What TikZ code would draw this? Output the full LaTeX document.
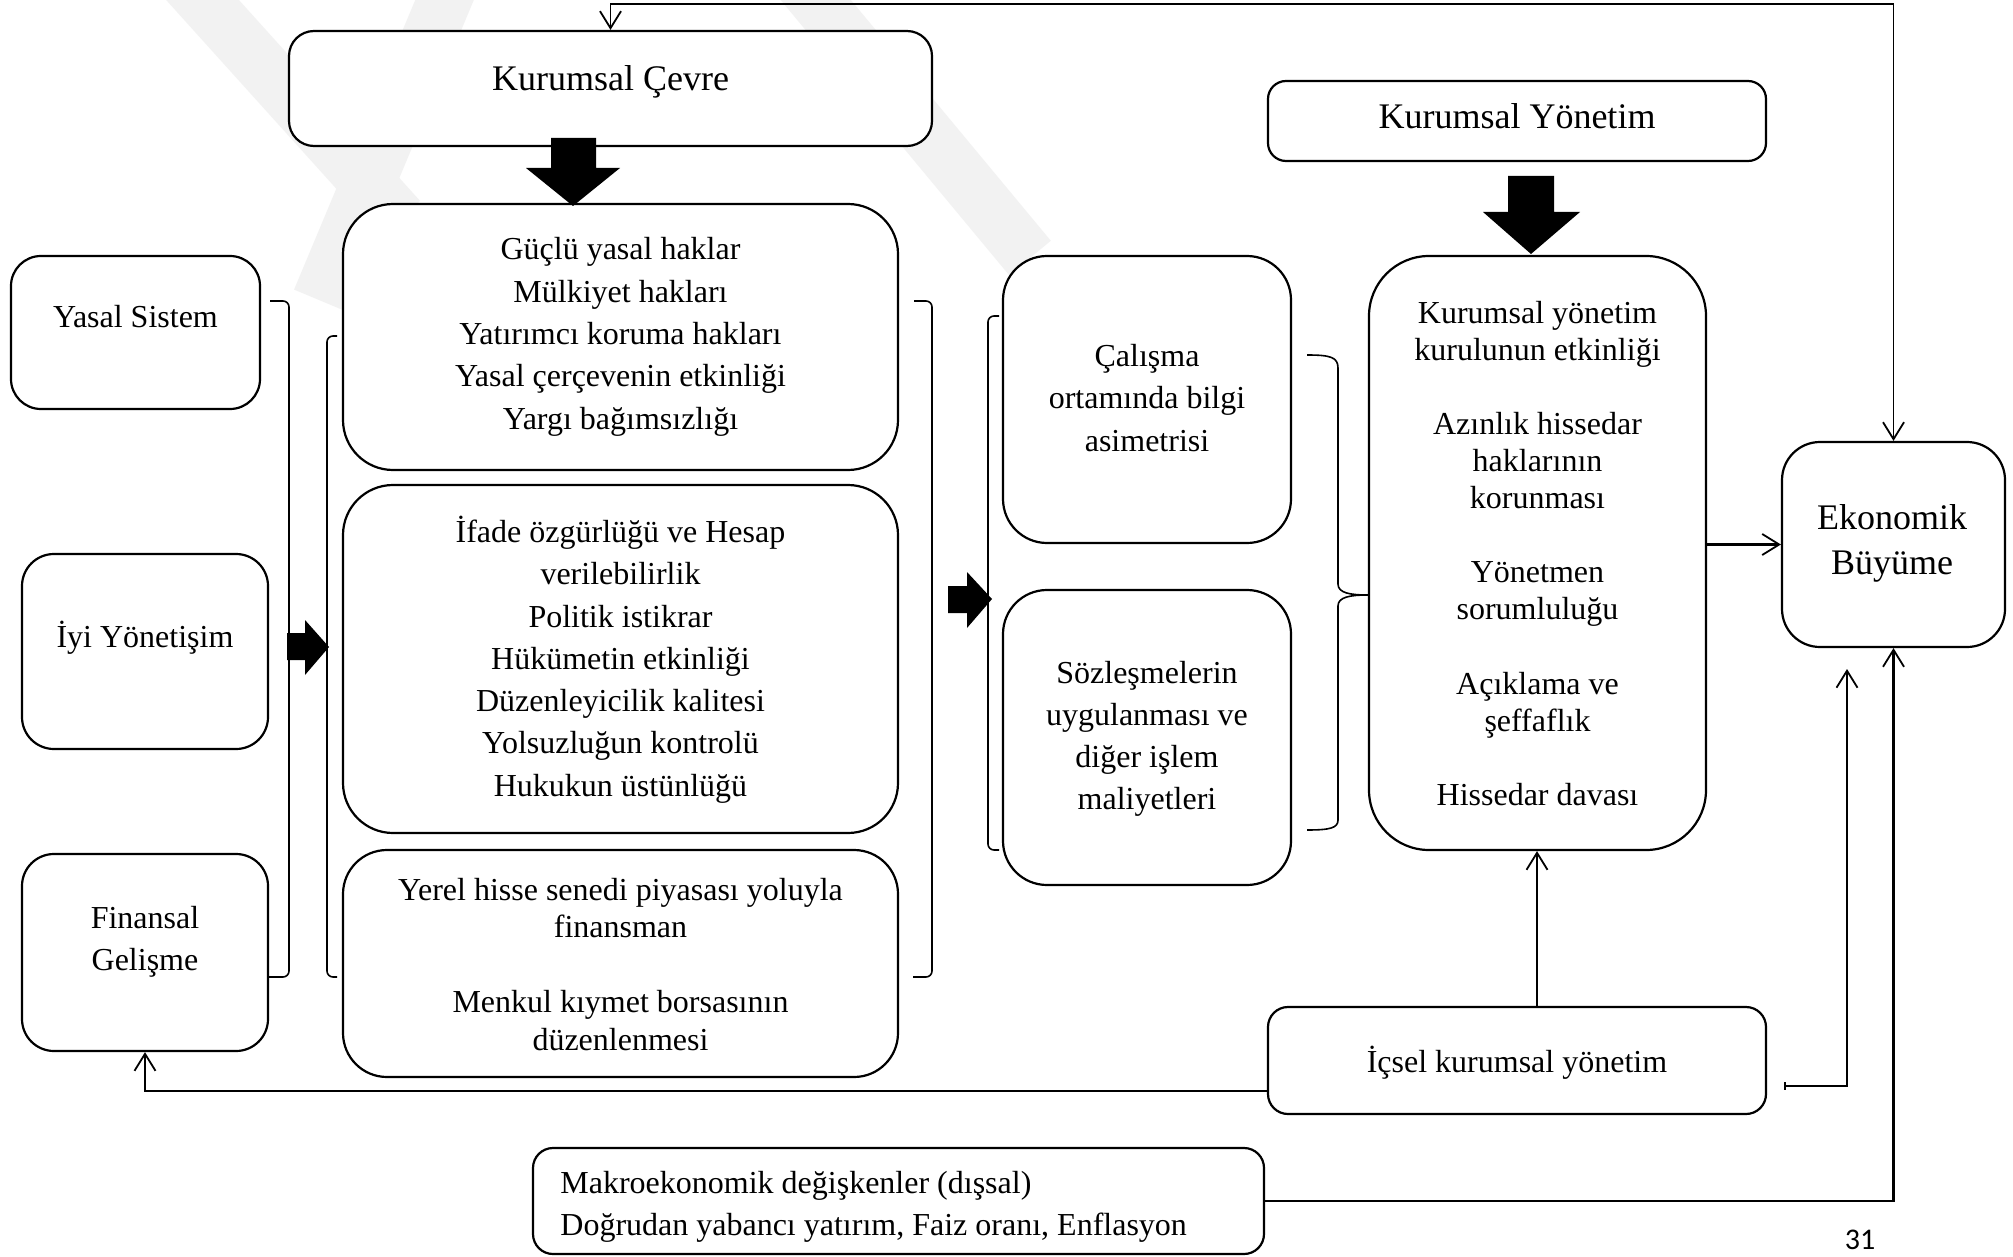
\documentclass[tikz,border=0pt]{standalone}
\usepackage{fontspec}
\setmainfont{Liberation Serif}
\newfontfamily\pagefont{Carlito}
\usetikzlibrary{arrows.meta}
\begin{document}
\begin{tikzpicture}[x=0.5pt,y=-0.5pt,
  box/.style={draw, line width=1.1pt, fill=white, inner sep=0pt, rounded corners=#1},
  box/.default=10pt,
  tx/.style={inner sep=0pt, anchor=base, font=\fontsize{16}{19}\selectfont},
  tl/.style={inner sep=0pt, anchor=base, font=\fontsize{18}{22}\selectfont},
  conn/.style={line width=1.2pt},
  thinconn/.style={line width=0.9pt},
  brk/.style={line width=0.8pt, rounded corners=3pt},
  barb/.style={-{Straight Barb[length=8.5pt,width=10.5pt,line width=0.9pt]}},
  barbs/.style={{Straight Barb[length=8.5pt,width=10.5pt,line width=0.9pt]}-{Straight Barb[length=8.5pt,width=10.5pt,line width=0.9pt]}},
  bigarrow/.style={fill=black},
  wm/.style={line width=27pt, black!5}
]
\useasboundingbox (0,0) rectangle (2013,1257);
\fill[white] (0,0) rectangle (2013,1257);
% watermark
\begin{scope}
\clip (0,0) rectangle (2013,1257);
\draw[wm] (180,-25) -- (400,219);
\draw[wm] (455,-25) -- (319,300);
\draw[wm] (795,-25) -- (1030,258);
\end{scope}

% boxes
\node[box=12.5pt, minimum width=321.5pt, minimum height=57.5pt] (kc) at (610.5,88.5) {};
\node[box=25pt, minimum width=277.5pt, minimum height=133pt] (g1) at (620.5,337) {};
\node[box=25pt, minimum width=277.5pt, minimum height=174pt] (g2) at (620.5,659) {};
\node[box=22pt, minimum width=277.5pt, minimum height=113.5pt] (g3) at (620.5,963.5) {};
\node[box=15pt, minimum width=124.5pt, minimum height=76.5pt] (ys) at (135.5,332.5) {};
\node[box=16pt, minimum width=123pt, minimum height=97.5pt] (iy) at (145,651.5) {};
\node[box=16pt, minimum width=123pt, minimum height=98.5pt] (fin) at (145,952.5) {};
\node[box=9pt, minimum width=249pt, minimum height=40pt] (ky) at (1517,121) {};
\node[box=22pt, minimum width=144pt, minimum height=143.5pt] (c1) at (1147,399.5) {};
\node[box=22pt, minimum width=144pt, minimum height=147.5pt] (c2) at (1147,737.5) {};
\node[box=30pt, minimum width=168.5pt, minimum height=297pt] (bb) at (1537.5,553) {};
\node[box=19pt, minimum width=111.5pt, minimum height=102.5pt] (eko) at (1893.5,544.5) {};
\node[box=10pt, minimum width=249pt, minimum height=53.5pt] (ics) at (1517,1060.5) {};
\node[box=10pt, minimum width=365.5pt, minimum height=53pt] (mak) at (898.5,1201) {};

% texts
\node[tl] (kct) at (610.5,91) {Kurumsal Çevre};
\node[tl] (kyt) at (1517,129) {Kurumsal Yönetim};

\node[tx] (g1a) at (620.5,260) {Güçlü yasal haklar};
\node[tx] (g1b) at (620.5,302.3) {Mülkiyet hakları};
\node[tx] (g1c) at (620.5,344.6) {Yatırımcı koruma hakları};
\node[tx] (g1d) at (620.5,386.9) {Yasal çerçevenin etkinliği};
\node[tx] (g1e) at (620.5,429.2) {Yargı bağımsızlığı};

\node[tx] (g2a) at (620.5,542.4) {İfade özgürlüğü ve Hesap};
\node[tx] (g2b) at (620.5,584.7) {verilebilirlik};
\node[tx] (g2c) at (620.5,627) {Politik istikrar};
\node[tx] (g2d) at (620.5,669.3) {Hükümetin etkinliği};
\node[tx] (g2e) at (620.5,711.6) {Düzenleyicilik kalitesi};
\node[tx] (g2f) at (620.5,753.9) {Yolsuzluğun kontrolü};
\node[tx] (g2g) at (620.5,796.2) {Hukukun üstünlüğü};

\node[tx] (g3a) at (620.5,900) {Yerel hisse senedi piyasası yoluyla};
\node[tx] (g3b) at (620.5,937.5) {finansman};
\node[tx] (g3c) at (620.5,1012.5) {Menkul kıymet borsasının};
\node[tx] (g3d) at (620.5,1050) {düzenlenmesi};

\node[tx] (yst) at (135.5,328) {Yasal Sistem};
\node[tx] (iyt) at (145,647) {İyi Yönetişim};
\node[tx] (fina) at (145,928) {Finansal};
\node[tx] (finb) at (145,970) {Gelişme};

\node[tx] (c1a) at (1147,366) {Çalışma};
\node[tx] (c1b) at (1147,408.5) {ortamında bilgi};
\node[tx] (c1c) at (1147,451) {asimetrisi};

\node[tx] (c2a) at (1147,683) {Sözleşmelerin};
\node[tx] (c2b) at (1147,725) {uygulanması ve};
\node[tx] (c2c) at (1147,767) {diğer işlem};
\node[tx] (c2d) at (1147,809) {maliyetleri};

\node[tx] (b1) at (1537.5,323) {Kurumsal yönetim};
\node[tx] (b2) at (1537.5,360.1) {kurulunun etkinliği};
\node[tx] (b3) at (1537.5,434.3) {Azınlık hissedar};
\node[tx] (b4) at (1537.5,471.4) {haklarının};
\node[tx] (b5) at (1537.5,508.5) {korunması};
\node[tx] (b6) at (1537.5,582.7) {Yönetmen};
\node[tx] (b7) at (1537.5,619.8) {sorumluluğu};
\node[tx] (b8) at (1537.5,694) {Açıklama ve};
\node[tx] (b9) at (1537.5,731.1) {şeffaflık};
\node[tx] (b10) at (1537.5,805.3) {Hissedar davası};

\node[tl] (eka) at (1892,529) {Ekonomik};
\node[tl] (ekb) at (1892,574) {Büyüme};

\node[tx] (icst) at (1517,1072) {İçsel kurumsal yönetim};

\node[tx, anchor=base west] (maka) at (560,1193) {Makroekonomik değişkenler (dışsal)};
\node[tx, anchor=base west] (makb) at (560,1235) {Doğrudan yabancı yatırım, Faiz oranı, Enflasyon};

\node[inner sep=0pt, anchor=base, font=\pagefont\fontsize{15}{18}\selectfont] (pg) at (1860,1249) {31};

% big black arrows
\fill[bigarrow] (551,138) -- (596,138) -- (596,168) -- (620,168) -- (573,206) -- (526,168) -- (551,168) -- cycle;
\fill[bigarrow] (1508,176) -- (1554,176) -- (1554,212) -- (1580,212) -- (1531,254) -- (1483,212) -- (1508,212) -- cycle;
\fill[bigarrow] (287,633) -- (305,633) -- (305,620) -- (329,647) -- (305,675) -- (305,660) -- (287,660) -- cycle;
\fill[bigarrow] (948,586) -- (967,586) -- (967,572) -- (992,599) -- (967,628) -- (967,613) -- (948,613) -- cycle;

% brackets
\draw[brk] (270,301) -- (289,301) -- (289,977) -- (268,977);
\draw[brk] (337,336) -- (327,336) -- (327,977) -- (337,977);
\draw[brk] (914,301) -- (932,301) -- (932,977) -- (913,977);
\draw[brk] (999,316) -- (988,316) -- (988,850) -- (999,850);
\draw[line width=0.8pt] (1307,355) .. controls (1330,355) and (1338,357) .. (1338,368)
  -- (1338,584) .. controls (1338,593) and (1350,595) .. (1368,595)
  .. controls (1350,595) and (1338,597) .. (1338,606)
  -- (1338,820) .. controls (1338,828) and (1330,830) .. (1307,830);

% connectors
\draw[thinconn, barbs] (kc.north) -- ++(0,-26) -| (eko.north);
\draw[conn, barb] (bb.east |- eko.west) -- (eko.west);
\draw[conn, barb] ([xshift=10pt]ics.north) -- ([xshift=10pt]ics.north |- bb.south);
\draw[conn, barb] ([yshift=-15.25pt]ics.west) -| (fin.south);
\coordinate (icsR) at (1785,1086);
\coordinate (ekoIn) at (1847,669);
\draw[conn, barb] (icsR) -| (ekoIn);
\draw[conn] (1785,1082) -- (1785,1090);
\draw[conn, barb] (mak.east) -| (eko.south);
\end{tikzpicture}
\end{document}
